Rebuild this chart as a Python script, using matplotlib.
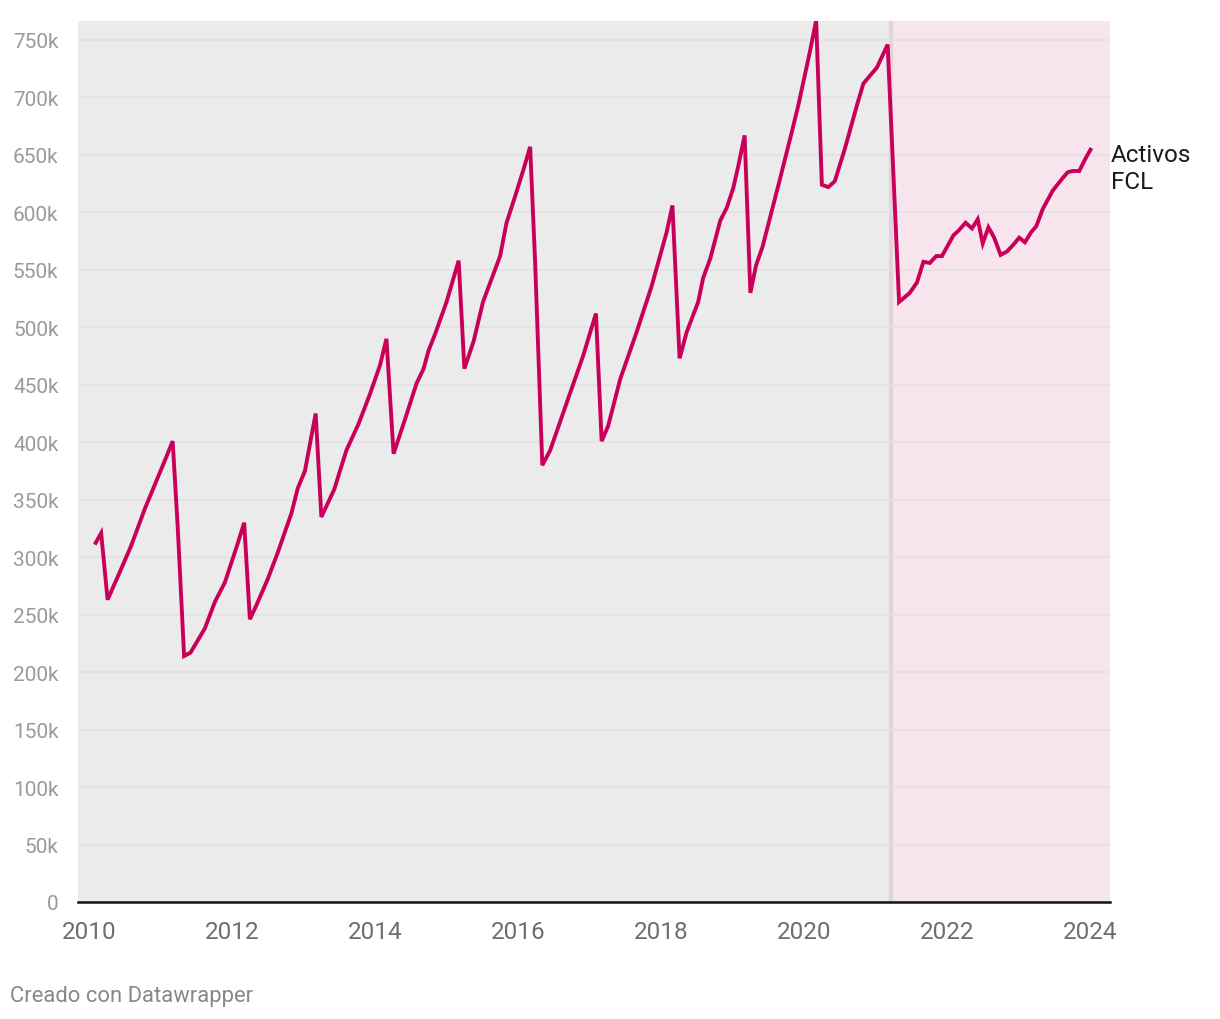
import matplotlib.pyplot as plt
from matplotlib.ticker import FuncFormatter

plt.rcParams['font.family'] = ['Roboto', 'DejaVu Sans']

# readings (decimal year, thousands) taken from the chart vertices
years = [2010.08, 2010.17, 2010.26, 2010.43, 2010.59, 2010.78, 2011.08, 2011.17, 2011.24, 2011.33,
         2011.42, 2011.62, 2011.76, 2011.90, 2012.07, 2012.17, 2012.25, 2012.34, 2012.50, 2012.64,
         2012.83, 2012.92, 2013.02, 2013.17, 2013.25, 2013.43, 2013.60, 2013.77, 2013.93, 2014.07,
         2014.16, 2014.26, 2014.42, 2014.58, 2014.68, 2014.75, 2014.84, 2015.00, 2015.17, 2015.25,
         2015.38, 2015.51, 2015.75, 2015.84, 2015.96, 2016.07, 2016.17, 2016.24, 2016.34, 2016.45,
         2016.73, 2016.91, 2017.09, 2017.17, 2017.26, 2017.43, 2017.66, 2017.87, 2018.08, 2018.16,
         2018.26, 2018.36, 2018.52, 2018.59, 2018.69, 2018.83, 2018.92, 2019.01, 2019.08, 2019.17,
         2019.25, 2019.33, 2019.42, 2019.66, 2019.83, 2019.92, 2020.08, 2020.17, 2020.25, 2020.34,
         2020.43, 2020.57, 2020.74, 2020.83, 2020.91, 2021.02, 2021.17, 2021.33, 2021.48, 2021.58,
         2021.67, 2021.76, 2021.85, 2021.93, 2022.09, 2022.16, 2022.26, 2022.35, 2022.43, 2022.50,
         2022.58, 2022.66, 2022.75, 2022.84, 2022.93, 2023.01, 2023.09, 2023.18, 2023.25, 2023.34,
         2023.48, 2023.62, 2023.69, 2023.76, 2023.85, 2023.93, 2024.02]
activos = [311, 321, 263, 287, 310, 342, 387, 401, 327, 214,
           217, 238, 261, 278, 310, 330, 246, 258, 281, 304,
           338, 360, 375, 425, 335, 359, 393, 416, 442, 467,
           490, 390, 420, 451, 464, 480, 494, 522, 558, 464,
           488, 522, 562, 591, 614, 636, 657, 556, 380, 393,
           443, 475, 512, 401, 414, 455, 496, 536, 583, 606,
           473, 496, 522, 543, 560, 593, 604, 621, 640, 667,
           530, 554, 570, 628, 670, 693, 739, 767, 624, 622,
           627, 655, 693, 712, 718, 726, 746, 522, 530, 539,
           557, 556, 562, 562, 580, 584, 591, 586, 594, 573,
           587, 578, 563, 566, 572, 578, 574, 583, 588, 603,
           619, 630, 635, 636, 636, 646, 656]
activos = [v * 1000 for v in activos]

split_year = 2021.22
y_ticks = list(range(0, 750001, 50000))
x_ticks = list(range(2010, 2025, 2))
series_label = "Activos\nFCL"
line_color = '#c8005a'

fig = plt.figure(figsize=(12.2, 10.2), dpi=100)
ax = fig.add_axes([78 / 1220, 117 / 1020, 1032 / 1220, 881 / 1020])

x_min, x_max = 2009.846, 2024.28
ax.set_xlim(x_min, x_max)
ax.set_ylim(0, 766500)

ax.axvspan(x_min, split_year, color='#ebebeb', zorder=0, lw=0)
ax.axvspan(split_year, x_max, color='#f7e4ec', zorder=0, lw=0)
ax.axvline(split_year, color='#e3d2da', lw=3, zorder=1)

for y in y_ticks[1:]:
    ax.axhline(y, color='#e2e2e2', lw=1.2, zorder=1)

ax.plot(years, activos, color=line_color, lw=2.8, zorder=3,
        solid_joinstyle='miter', solid_capstyle='butt')

ax.text(2024.29, 639000, series_label, fontsize=17.5, color='#1a1a1a',
        va='center', ha='left', linespacing=1.22, clip_on=False)

ax.set_yticks(y_ticks)
ax.yaxis.set_major_formatter(FuncFormatter(lambda v, p: '0' if v == 0 else f'{int(v / 1000)}k'))
ax.set_xticks(x_ticks)
ax.tick_params(axis='y', length=0, pad=14, labelsize=15, labelcolor='#9a9a9a')
ax.tick_params(axis='x', length=0, pad=13, labelsize=17.5, labelcolor='#6e6e6e')

for s in ['top', 'right', 'left']:
    ax.spines[s].set_visible(False)
ax.spines['bottom'].set_color('#111111')
ax.spines['bottom'].set_linewidth(1.8)
ax.spines['bottom'].set_zorder(4)

fig.text(10 / 1220, 1 - 997 / 1020, "Creado con Datawrapper", fontsize=15.8,
         color='#888888', va='center', ha='left')

fig.savefig('out.png', dpi=100)
plt.close(fig)
